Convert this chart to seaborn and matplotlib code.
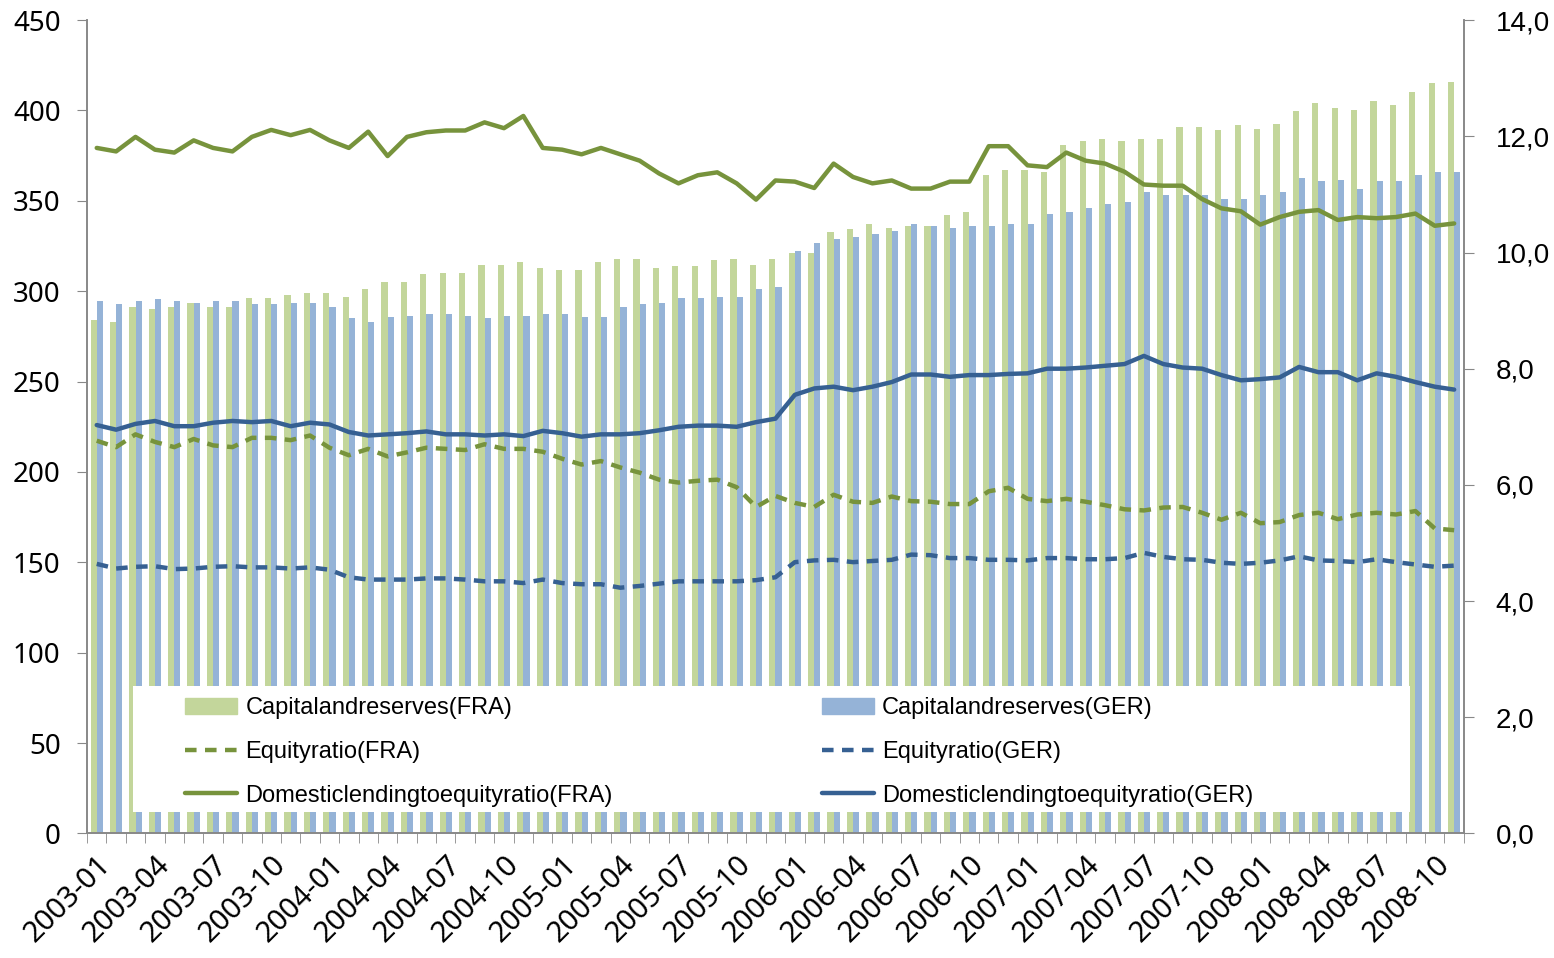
"""Capital and reserves vs. equity ratios, France and Germany, 2003-2008."""
import matplotlib
matplotlib.use("Agg")
import matplotlib.pyplot as plt
from matplotlib import font_manager
from matplotlib.patches import Patch, Rectangle
from matplotlib.lines import Line2D
import pandas as pd
import seaborn as sns

months = list(pd.period_range("2003-01", periods=71, freq="M").strftime("%Y-%m"))

capital_fra = [284, 283, 291, 290, 291, 293.5, 291, 291, 296, 296, 298, 299, 299, 297, 301.5,
               305, 305, 309.5, 310, 310, 314.5, 314.5, 316, 313, 312,
               312, 316, 318, 318, 313, 314, 314, 317.5, 318, 314.5, 318, 321, 321, 332.5,
               334.5, 337, 335, 336, 336, 342, 344, 364.5,
               367, 367, 366, 381, 383, 384, 383, 384, 384, 391, 391, 389, 392, 390, 392.5,
               399.5, 404, 401.5, 400.5, 405, 403, 410.5, 415, 416]
capital_ger = [294.5, 293, 294.5, 295.5, 294.5, 293.5, 294.5, 294.5, 293, 293, 293.5, 293.5, 291,
               285, 283, 286, 286.5, 287.5, 287.5, 286.5, 285, 286.5, 286.5, 287.5, 287.5,
               285.5, 285.5, 291, 293, 293.5, 296.5, 296.5, 297, 297, 301.5, 302.5, 322, 326.5,
               329, 330, 331.5, 333.5, 337, 336, 335, 336, 336,
               337, 337, 342.5, 344, 346, 348.5, 349.5, 355, 353, 353, 353, 351, 351, 353, 355,
               362.5, 361, 361.5, 356.5, 361, 361, 364.5, 366, 366]

equity_fra = [6.76, 6.65, 6.87, 6.74, 6.65, 6.79, 6.68, 6.65, 6.81, 6.81, 6.77, 6.85, 6.64, 6.51,
              6.62, 6.49, 6.56, 6.64, 6.62, 6.60, 6.70, 6.62, 6.62, 6.57,
              6.45, 6.35, 6.41, 6.30, 6.21, 6.09, 6.04, 6.07, 6.09, 5.96, 5.62, 5.81, 5.69, 5.62,
              5.83, 5.71, 5.69, 5.80, 5.72, 5.71, 5.67, 5.67, 5.89, 5.95,
              5.76, 5.72, 5.76, 5.71, 5.65, 5.58, 5.56, 5.61, 5.62, 5.52, 5.40, 5.52, 5.34, 5.36,
              5.48, 5.52, 5.41, 5.49, 5.52, 5.49, 5.55, 5.25, 5.22]
equity_ger = [4.64, 4.56, 4.59, 4.60, 4.55, 4.56, 4.59, 4.60, 4.58, 4.58, 4.56, 4.58, 4.54, 4.41,
              4.37, 4.37, 4.37, 4.39, 4.39, 4.37, 4.34, 4.34, 4.31, 4.37,
              4.31, 4.29, 4.29, 4.23, 4.26, 4.30, 4.34, 4.34, 4.34, 4.34, 4.36, 4.41, 4.67, 4.70,
              4.71, 4.67, 4.69, 4.71, 4.80, 4.79, 4.74, 4.74, 4.71, 4.71,
              4.70, 4.74, 4.74, 4.72, 4.72, 4.74, 4.83, 4.76, 4.72, 4.71, 4.66, 4.64, 4.66, 4.70,
              4.77, 4.70, 4.69, 4.67, 4.72, 4.67, 4.63, 4.59, 4.61]

lending_fra = [11.80, 11.74, 11.99, 11.77, 11.72, 11.93, 11.80, 11.74, 11.99, 12.11, 12.02, 12.11,
               11.93, 11.80, 12.08, 11.66, 11.99, 12.07, 12.10, 12.10, 12.24, 12.14, 12.35, 11.80,
               11.77, 11.69, 11.80, 11.69, 11.58, 11.36, 11.19, 11.33, 11.38, 11.19, 10.91, 11.24,
               11.22, 11.11, 11.53, 11.30, 11.19, 11.24, 11.10, 11.10, 11.22, 11.22, 11.83, 11.83,
               11.50, 11.47, 11.72, 11.58, 11.53, 11.39, 11.17, 11.15, 11.15, 10.92, 10.76, 10.71,
               10.48, 10.61, 10.70, 10.73, 10.56, 10.61, 10.59, 10.61, 10.67, 10.46, 10.50]
lending_ger = [7.03, 6.95, 7.05, 7.10, 7.01, 7.01, 7.07, 7.10, 7.08, 7.10, 7.01, 7.07, 7.04, 6.91,
               6.85, 6.87, 6.89, 6.92, 6.87, 6.87, 6.85, 6.87, 6.84, 6.93,
               6.89, 6.83, 6.87, 6.87, 6.89, 6.94, 7.00, 7.02, 7.02, 7.00, 7.08, 7.14, 7.55, 7.66,
               7.69, 7.63, 7.69, 7.77, 7.90, 7.90, 7.86, 7.89, 7.89, 7.91,
               7.92, 8.00, 8.00, 8.02, 8.05, 8.08, 8.22, 8.08, 8.02, 8.00, 7.89, 7.80, 7.82, 7.85,
               8.03, 7.94, 7.94, 7.80, 7.92, 7.86, 7.77, 7.69, 7.64]

labels = ["Capitalandreserves(FRA)", "Capitalandreserves(GER)",
          "Equityratio(FRA)", "Equityratio(GER)",
          "Domesticlendingtoequityratio(FRA)", "Domesticlendingtoequityratio(GER)"]

BAR_FRA, BAR_GER = "#c3d69b", "#95b3d7"
LINE_FRA, LINE_GER = "#77933c", "#366092"

sns.set_style("white")
available = {f.name for f in font_manager.fontManager.ttflist}
narrow = "Liberation Sans Narrow" if "Liberation Sans Narrow" in available else "Liberation Sans"
plt.rcParams["font.family"] = ["Noto Sans", "DejaVu Sans"]
plt.rcParams["text.color"] = "black"
plt.rcParams["xtick.labelcolor"] = "black"
plt.rcParams["ytick.labelcolor"] = "black"

bars = pd.DataFrame({
    "month": months * 2,
    "value": capital_fra + capital_ger,
    "country": ["FRA"] * len(months) + ["GER"] * len(months),
})

fig = plt.figure(figsize=(15.54, 9.58), dpi=100)
ax = fig.add_axes([0.056, 0.130, 0.886, 0.849])
sns.barplot(data=bars, x="month", y="value", hue="country", order=months,
            palette=[BAR_FRA, BAR_GER], width=0.64, saturation=1, linewidth=0,
            legend=False, ax=ax)

ax2 = ax.twinx()
x = list(range(len(months)))
dash = (0, (2.6, 1.9))
sns.lineplot(x=x, y=lending_fra, color=LINE_FRA, lw=3.2, ax=ax2)
sns.lineplot(x=x, y=lending_ger, color=LINE_GER, lw=3.2, ax=ax2)
l1 = sns.lineplot(x=x, y=equity_fra, color=LINE_FRA, lw=3.2, ax=ax2).lines[-1]
l1.set_linestyle(dash)
l2 = sns.lineplot(x=x, y=equity_ger, color=LINE_GER, lw=3.2, ax=ax2).lines[-1]
l2.set_linestyle(dash)

ax.set_xlim(-0.5, len(months) - 0.5)
ax.set_ylim(0, 450)
ax2.set_ylim(0, 14)
ax.set_yticks(range(0, 451, 50))
ax2.set_yticks(range(0, 15, 2))
ax2.set_yticklabels([f"{v},0" for v in range(0, 15, 2)], family=narrow, fontsize=20)
ax.tick_params(axis="y", labelsize=20, length=7, color="#888888", pad=12)
ax2.tick_params(axis="y", length=7, color="#888888", pad=16)

ax.set_xticks(range(0, len(months), 3))
ax.set_xticklabels(months[::3], rotation=45, ha="right", rotation_mode="anchor", fontsize=21)
ax.set_xticks([i - 0.5 for i in range(len(months) + 1)], minor=True)
ax.tick_params(axis="x", which="major", length=0, pad=12)
ax.tick_params(axis="x", which="minor", length=7, color="#888888", bottom=True)
ax.set_xlabel("")
ax.set_ylabel("")
ax2.set_ylabel("")

for a in (ax, ax2):
    a.spines["top"].set_visible(False)
    for s in ("left", "right", "bottom"):
        a.spines[s].set_color("#888888")
        a.spines[s].set_linewidth(1.2)

# white legend panel covering the bars
ax2.add_patch(Rectangle((0.0334, 0.0258), 0.9274, 0.156, transform=ax2.transAxes,
                        facecolor="white", edgecolor="none", zorder=5))

leg_kw = dict(loc="upper left", frameon=False, borderaxespad=0, borderpad=0,
              handlelength=2.2, handleheight=0.7, handletextpad=0.35, labelspacing=0.92,
              labelcolor="black", prop={"family": narrow, "size": 17})
col1 = [Patch(color=BAR_FRA), Line2D([], [], color=LINE_FRA, lw=3.2, ls=dash),
        Line2D([], [], color=LINE_FRA, lw=3.2)]
col2 = [Patch(color=BAR_GER), Line2D([], [], color=LINE_GER, lw=3.2, ls=dash),
        Line2D([], [], color=LINE_GER, lw=3.2)]
leg1 = ax2.legend(col1, [labels[0], labels[2], labels[4]],
                  bbox_to_anchor=(0.0712, 0.1676), **leg_kw)
leg1.set_zorder(6)
ax2.add_artist(leg1)
leg2 = ax2.legend(col2, [labels[1], labels[3], labels[5]],
                  bbox_to_anchor=(0.5337, 0.1676), **leg_kw)
leg2.set_zorder(6)

fig.savefig("out.png", dpi=100)
